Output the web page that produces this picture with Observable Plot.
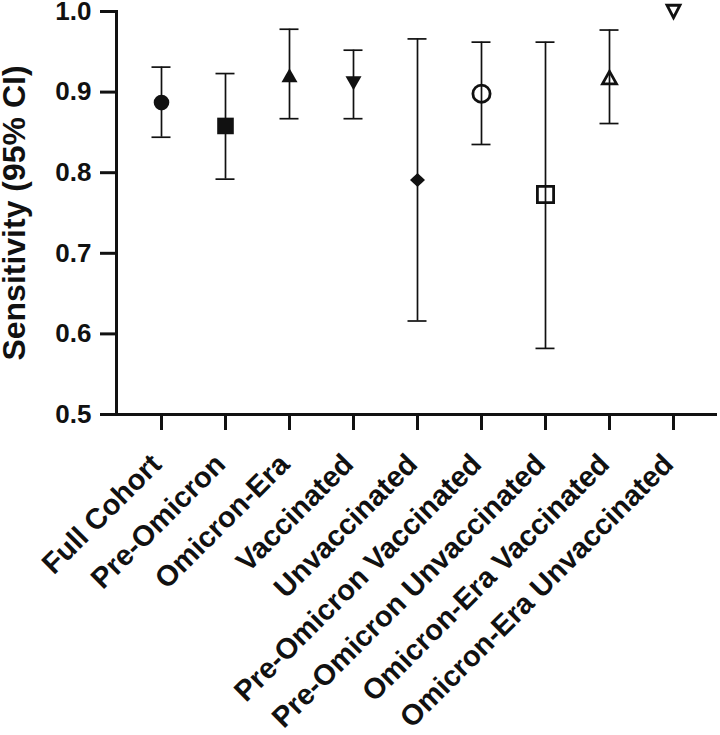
<!DOCTYPE html>
<html><head><meta charset="utf-8">
<script src="https://cdn.jsdelivr.net/npm/d3@7"></script>
<script src="https://cdn.jsdelivr.net/npm/@observablehq/plot@0.6"></script>
<style>body{margin:0;background:#fff}</style>
</head><body><div id="chart"></div>
<script>
const categories = ["Full Cohort","Pre-Omicron","Omicron-Era","Vaccinated","Unvaccinated","Pre-Omicron Vaccinated","Pre-Omicron Unvaccinated","Omicron-Era Vaccinated","Omicron-Era Unvaccinated"];
const sensitivity = [0.887,0.858,0.921,0.911,0.791,0.898,0.773,0.918,1.0];
const ciLower = [0.844,0.792,0.867,0.867,0.616,0.835,0.582,0.861,null];
const ciUpper = [0.931,0.923,0.978,0.952,0.966,0.962,0.962,0.977,null];
const yTicks = [0.5,0.6,0.7,0.8,0.9,1.0];

const rows = categories.map((c,i)=>({category:c, value:sensitivity[i], lo:ciLower[i], hi:ciUpper[i]}));
const bars = rows.filter(d => d.lo != null && d.hi != null);

const ink = "#111";
const circleSym = r => ({draw(ctx){ ctx.moveTo(r,0); ctx.arc(0,0,r,0,2*Math.PI); ctx.closePath(); }});
const squareSym = h => ({draw(ctx){ ctx.moveTo(-h,-h); ctx.lineTo(h,-h); ctx.lineTo(h,h); ctx.lineTo(-h,h); ctx.closePath(); }});
const triUpSym = (w,h) => ({draw(ctx){ ctx.moveTo(0,-h/2); ctx.lineTo(w/2,h/2); ctx.lineTo(-w/2,h/2); ctx.closePath(); }});
const triDownSym = (w,h) => ({draw(ctx){ ctx.moveTo(0,h/2); ctx.lineTo(w/2,-h/2); ctx.lineTo(-w/2,-h/2); ctx.closePath(); }});
const diamondSym = (w,h) => ({draw(ctx){ ctx.moveTo(0,-h/2); ctx.lineTo(w/2,0); ctx.lineTo(0,h/2); ctx.lineTo(-w/2,0); ctx.closePath(); }});

const markerFor = {
  "Full Cohort": {symbol: circleSym(7.8), filled: true},
  "Pre-Omicron": {symbol: squareSym(8.3), filled: true},
  "Omicron-Era": {symbol: triUpSym(16,14), filled: true},
  "Vaccinated": {symbol: triDownSym(16,14), filled: true},
  "Unvaccinated": {symbol: diamondSym(15,14), filled: true},
  "Pre-Omicron Vaccinated": {symbol: circleSym(8.6), filled: false},
  "Pre-Omicron Unvaccinated": {symbol: squareSym(8.1), filled: false},
  "Omicron-Era Vaccinated": {symbol: triUpSym(14,12.5), filled: false},
  "Omicron-Era Unvaccinated": {symbol: triDownSym(13,12.5), filled: false}
};

const dotMarks = rows.map(d => {
  const m = markerFor[d.category];
  return Plot.dot([d], {
    x: "category", y: "value", symbol: m.symbol, r: 5,
    fill: m.filled ? ink : "none",
    stroke: m.filled ? "none" : ink,
    strokeWidth: m.filled ? 0 : 2.8
  });
});

const chart = Plot.plot({
  width: 720, height: 735,
  marginLeft: 116, marginRight: 3, marginTop: 11, marginBottom: 321,
  style: {fontFamily: "'Liberation Sans', Arial, sans-serif", fontWeight: "bold", color: ink, background: "#fff", overflow: "visible"},
  x: {domain: categories, paddingInner: 0, paddingOuter: 0.168, align: 0.5},
  y: {domain: [0.5, 1.0]},
  marks: [
    Plot.axisY({ticks: yTicks, tickFormat: d3.format(".1f"), tickSize: 16, tickPadding: 9, strokeWidth: 3, fontSize: 26, label: null}),
    Plot.axisY({ticks: [], label: "Sensitivity (95% CI)", labelArrow: "none", labelAnchor: "center", labelOffset: 114, fontSize: 32}),
    Plot.axisX({tickSize: 16, strokeWidth: 3, tickFormat: () => "", label: null}),
    Plot.axisX({tickSize: 0, tickRotate: -45, fontSize: 29, tickPadding: 45, dx: -5, label: null}),
    Plot.ruleY([0.5], {stroke: ink, strokeWidth: 3}),
    Plot.frame({anchor: "left", stroke: ink, strokeWidth: 3}),
    Plot.ruleX(bars, {x: "category", y1: "lo", y2: "hi", stroke: ink, strokeWidth: 1.7}),
    Plot.tickY(bars, {x: "category", y: "lo", stroke: ink, strokeWidth: 1.7, insetLeft: 22.5, insetRight: 22.5}),
    Plot.tickY(bars, {x: "category", y: "hi", stroke: ink, strokeWidth: 1.7, insetLeft: 22.5, insetRight: 22.5}),
    ...dotMarks
  ]
});
document.getElementById("chart").append(chart);
</script>
</body></html>
